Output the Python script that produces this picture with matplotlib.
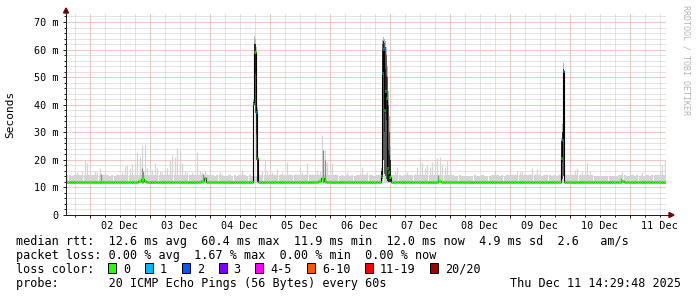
import matplotlib
matplotlib.use("Agg")
import matplotlib.dates as mdates
import matplotlib.pyplot as plt
import numpy as np
import pandas as pd
from matplotlib.patches import Polygon, Rectangle
from matplotlib.ticker import FuncFormatter, MultipleLocator

W, H = 697, 297
MONO = "DejaVu Sans Mono"
start = pd.Timestamp("2025-12-01 14:29:48")

# hourly upper edge of the light smoke (ms), 240 hours from start
smoke_max = [
    14.5, 14.5, 14.0, 15.0, 15.7, 14.5, 16.0, 20.0, 18.7, 17.0,
    14.5, 16.0, 15.5, 17.0, 14.5, 15.7, 14.5, 14.0, 14.5, 14.0,
    15.0, 14.5, 15.5, 17.6, 18.0, 17.0, 18.5, 19.0, 23.0, 21.0,
    25.4, 25.4, 17.0, 17.5, 16.5, 18.8, 17.0, 16.0, 15.5, 16.5,
    17.0, 20.0, 21.8, 21.0, 24.2, 24.0, 18.7, 16.0, 15.5, 14.5,
    15.5, 15.0, 23.0, 16.0, 15.5, 16.5, 15.0, 18.7, 14.5, 14.0,
    14.5, 15.7, 14.5, 14.3, 14.3, 15.0, 14.3, 14.5, 14.3, 14.5,
    16.5, 14.5, 14.3, 15.0, 14.3, 14.3, 14.3, 14.5, 16.0, 20.0,
    16.0, 16.0, 15.5, 15.0, 16.7, 15.0, 15.7, 15.0, 19.3, 14.8,
    14.5, 14.8, 15.0, 17.4, 15.5, 15.0, 18.8, 15.0, 14.8, 14.5,
    16.5, 16.0, 29.0, 23.6, 19.3, 18.0, 19.0, 15.0, 14.5, 14.3,
    14.5, 14.3, 15.5, 14.3, 14.5, 14.3, 14.5, 14.8, 17.4, 15.0,
    15.5, 14.5, 14.5, 14.3, 14.5, 15.0, 15.0, 15.0, 15.0, 15.0,
    14.5, 16.0, 17.4, 14.5, 14.3, 14.5, 15.7, 14.5, 14.5, 15.0,
    17.4, 20.6, 18.9, 17.0, 18.0, 17.5, 19.3, 20.0, 20.5, 21.2,
    18.5, 17.5, 20.0, 16.0, 14.5, 14.3, 14.3, 14.5, 14.3, 14.0,
    14.3, 14.0, 14.3, 15.0, 14.3, 14.0, 14.5, 14.3, 14.0, 14.3,
    14.5, 16.3, 14.5, 14.3, 14.5, 14.3, 15.0, 14.5, 14.8, 14.5,
    16.0, 15.5, 16.0, 15.0, 14.5, 15.0, 17.0, 15.0, 16.8, 14.5,
    14.3, 14.5, 15.0, 14.5, 14.3, 14.5, 14.3, 15.0, 15.0, 15.0,
    14.8, 14.5, 15.0, 16.5, 17.0, 15.0, 16.0, 16.0, 18.8, 16.0,
    14.5, 14.0, 14.0, 14.3, 14.0, 14.0, 14.3, 14.0, 14.0, 14.3,
    14.0, 14.5, 15.5, 14.5, 14.3, 14.0, 14.5, 14.3, 14.5, 14.0,
    15.5, 14.3, 14.5, 14.3, 14.8, 14.5, 15.0, 16.5, 18.3, 20.0,
]

# hourly median rtt (ms); nan where the spike columns below take over
nan = float("nan")
median_rtt = [
    12.0, 12.1, 12.0, 12.0, 11.9, 12.0, 12.0, 12.1, 12.0, 12.0,
    12.0, 12.0, 12.1, 12.0, 12.0, 12.0, 11.9, 12.0, 12.0, 12.0,
    12.0, 12.0, 12.0, 12.0, 12.1, 12.0, 12.0, 12.0, 12.1, 12.2,
    13.2, 12.3, 12.0, 12.0, 12.0, 12.1, 12.0, 12.0, 12.0, 12.0,
    12.1, 12.0, 12.0, 12.1, 12.0, 12.0, 12.0, 11.9, 12.0, 12.0,
    12.0, 12.0, 12.1, 12.0, 12.2, 13.3, 12.1, 12.0, 12.0, 12.0,
    12.0, 12.0, 12.0, 11.9, 12.0, 12.0, 12.0, 12.0, 12.0, 12.0,
    12.0, 12.0, 12.0, 12.0, 12.0, nan, nan, 12.1, 12.0, 12.0,
    12.0, 12.0, 12.0, 12.1, 12.0, 12.0, 12.0, 12.0, 12.0, 12.0,
    12.0, 11.9, 12.0, 12.0, 12.0, 12.0, 12.1, 12.0, 12.0, 12.0,
    12.0, 12.2, 13.6, 12.4, 12.0, 12.1, 12.0, 12.0, 12.0, 12.0,
    12.0, 12.0, 12.0, 12.0, 11.9, 12.0, 12.0, 12.0, 12.0, 12.0,
    12.0, 12.0, 12.0, 12.0, 12.0, 12.0, nan, nan, nan, nan,
    12.1, 12.0, 12.0, 12.0, 12.0, 12.0, 12.0, 12.0, 12.1, 12.0,
    12.0, 12.0, 12.0, 12.0, 12.0, 12.0, 12.0, 12.0, 12.0, 12.2,
    12.0, 12.0, 12.0, 12.0, 12.0, 12.0, 12.0, 11.9, 12.0, 12.0,
    12.0, 12.0, 12.0, 12.0, 12.0, 12.0, 12.0, 12.0, 12.0, 12.0,
    12.0, 12.1, 12.0, 12.0, 12.0, 12.0, 12.0, 12.0, 12.0, 12.0,
    12.0, 12.0, 12.0, 12.0, 12.0, 12.0, 12.1, 12.0, 12.0, 12.0,
    12.0, 12.0, 12.0, 12.0, 12.0, 12.0, 12.0, 12.0, nan, 12.0,
    12.0, 12.0, 12.0, 12.0, 12.0, 12.0, 12.0, 12.0, 12.1, 12.0,
    12.0, 12.0, 12.0, 11.9, 12.0, 12.0, 12.0, 12.0, 12.0, 12.0,
    12.0, 12.0, 12.5, 12.0, 12.0, 12.0, 12.0, 12.0, 12.0, 12.0,
    12.0, 12.0, 12.0, 12.0, 12.0, 12.0, 12.0, 12.0, 12.0, 12.0,
]

# denser (darker) smoke spots: hour offset and top (ms)
dark_hours = [13.9, 30.3, 30.7, 54.7, 102.6, 103.5, 149.0, 222.0]
dark_top = [15.0, 17.0, 16.0, 15.0, 23.6, 20.0, 14.5, 13.5]

# short spikes, one entry per ~24 min column
spike_hours = [74.72, 75.12, 75.52, 75.92, 76.32,
               125.92, 126.32, 126.72, 127.12, 127.52, 127.92, 128.32, 128.72, 129.12, 129.52,
               197.92, 198.32, 198.72]
spike_lo = [12.0, 40.0, 37.0, 20.0, 12.0,
            12.0, 13.0, 20.0, 15.0, 14.0, 13.0, 12.5, 12.0, 12.0, 12.0,
            12.0, 13.0, 14.0]
spike_hi = [41.0, 62.0, 62.0, 59.0, 38.0,
            16.0, 62.0, 63.0, 62.5, 61.0, 58.0, 50.0, 40.0, 30.0, 20.0,
            27.0, 30.0, 53.0]
spike_top = [42.0, 65.0, 64.0, 61.0, 39.0,
             17.0, 63.5, 64.5, 64.0, 63.0, 61.0, 54.0, 45.0, 36.0, 25.0,
             28.0, 33.0, 55.0]
spike_median = [40.3, 59.3, 59.3, 37.5, 20.5,
                14.0, 51.4, 60.2, 38.0, 45.0, 42.3, 17.0, 15.7, 13.9, 13.9,
                20.6, 27.2, 52.3]
spike_loss = [0, 0, 0, 1, 0,
              0, 1, 1, 0, 0, 0, 0, 0, 0, 0,
              0, 1, 1]

loss_labels = ["0", "1", "2", "3", "4-5", "6-10", "11-19", "20/20"]
loss_colors = ["#26ff00", "#00b8ff", "#0059ff", "#7e00ff", "#ff00ff", "#ff5500", "#ff0000", "#a10000"]

rtt_line = "median rtt:  12.6 ms avg  60.4 ms max  11.9 ms min  12.0 ms now  4.9 ms sd  2.6   am/s"
loss_line = "packet loss: 0.00 % avg  1.67 % max  0.00 % min  0.00 % now"
probe_line = "probe:       20 ICMP Echo Pings (56 Bytes) every 60s"
stamp_text = "Thu Dec 11 14:29:48 2025"


def fx(x):
    return x / W


def fy(y):
    return 1 - y / H


t0 = mdates.date2num(start.to_pydatetime())
hours = np.arange(len(smoke_max))
x_hour = t0 + hours / 24

fig = plt.figure(figsize=(W / 100, H / 100), dpi=100)
fig.patch.set_facecolor("white")
ax = fig.add_axes([fx(66), fy(215), 600 / W, 202 / H])
ax.set_xlim(t0, t0 + 10)
ax.set_ylim(0, 202 / 2.757)

# grid
ax.set_axisbelow(True)
ax.xaxis.set_major_locator(mdates.DayLocator())
ax.xaxis.set_minor_locator(mdates.HourLocator(byhour=[0, 6, 12, 18]))
ax.xaxis.set_major_formatter(FuncFormatter(lambda v, p: ""))
ax.xaxis.set_minor_formatter(FuncFormatter(
    lambda v, p: mdates.num2date(v).strftime("%d %b") if mdates.num2date(v).hour == 12 else ""))
ax.yaxis.set_major_locator(MultipleLocator(10))
ax.yaxis.set_minor_locator(MultipleLocator(2))
ax.yaxis.set_major_formatter(FuncFormatter(lambda v, p: "0" if v == 0 else f"{v:.0f} m"))
ax.grid(which="minor", color="#c8c8c8", ls=(0, (1, 1)), lw=0.72)
ax.grid(which="major", color="#e79191", ls=(0, (1, 1)), lw=0.72)

ax.tick_params(which="both", direction="out", color="#1f1f1f", width=0.72, labelsize=7.3)
ax.tick_params(which="major", length=2.2)
ax.tick_params(which="minor", length=1.5)
ax.tick_params(axis="x", which="minor", pad=2.5)
ax.tick_params(axis="y", pad=3.5)
for lab in ax.get_xticklabels(which="both") + ax.get_yticklabels():
    lab.set_family(MONO)

for side in ("top", "right"):
    ax.spines[side].set_visible(False)
for side in ("left", "bottom"):
    ax.spines[side].set_color("#1f1f1f")
    ax.spines[side].set_linewidth(0.72)

# light smoke
smoke = np.array(smoke_max)
floor = 11.6
body = np.minimum(smoke, 14.4)
light = "#d4d4d4"
ax.bar(x_hour, body - floor, bottom=floor, width=1 / 24, align="edge", color=light, lw=0, zorder=2)
ax.vlines(x_hour + 0.5 / 24, floor, smoke, color=light, lw=0.9, zorder=2)
ax.vlines(t0 + np.array(dark_hours) / 24, floor, dark_top, color="#8c8c8c", lw=0.9, zorder=2)

# spikes: light halo, mid-grey smoke, dark core near the median
xs = t0 + np.array(spike_hours) / 24
lo = np.array(spike_lo)
hi = np.array(spike_hi)
top = np.array(spike_top)
med = np.array(spike_median)
ax.bar(xs, top - lo, bottom=lo, width=0.4 / 24, align="edge", color="#b4b4b4", lw=0, zorder=2)
ax.bar(xs, hi - lo, bottom=lo, width=0.4 / 24, align="edge", color="#5a5a5a", lw=0, zorder=2)
core_lo = np.maximum(lo, med - 8)
core_hi = np.minimum(hi, med + 8)
ax.bar(xs, core_hi - core_lo, bottom=core_lo, width=0.4 / 24, align="edge", color="#262626",
       lw=0, zorder=2)

# median line
df = pd.concat([
    pd.DataFrame({"t": hours.astype(float), "med": median_rtt, "loss": 0}),
    pd.DataFrame({"t": spike_hours, "med": spike_median, "loss": spike_loss}),
]).dropna().sort_values("t").reset_index(drop=True)
df["t_end"] = df["t"].shift(-1).fillna(240.0)
tx = t0 + df["t"].to_numpy() / 24
te = t0 + df["t_end"].to_numpy() / 24
ax.step(np.append(tx, te[-1]), np.append(df["med"].to_numpy(), df["med"].iloc[-1]),
        where="post", color="black", lw=0.8, zorder=3)
ax.hlines(df["med"], tx, te, colors=[loss_colors[i] for i in df["loss"]], lw=2.2, zorder=4)

# axis extension and arrows
fig.add_artist(plt.Line2D([fx(666), fx(670)], [fy(215), fy(215)], color="#1f1f1f", lw=0.72))
fig.add_artist(plt.Line2D([fx(66), fx(66)], [fy(213), fy(11)], color="#1f1f1f", lw=0.72))
fig.add_artist(Polygon([[fx(63.5), fy(13)], [fx(68.5), fy(13)], [fx(66), fy(8)]], closed=True,
                       color="#7f0000", transform=fig.transFigure))
fig.add_artist(Polygon([[fx(669), fy(212.5)], [fx(669), fy(217.5)], [fx(674), fy(215)]], closed=True,
                       color="#7f0000", transform=fig.transFigure))

fig.text(fx(10), fy(114), "Seconds", rotation=90, ha="center", va="center", family=MONO, fontsize=8)
fig.text(fx(686), fy(5), "RRDTOOL / TOBI OETIKER", rotation=270, ha="center", va="top",
         family=MONO, fontsize=6, color="#b4b4b4")

# legend
LEG = 8.5
fig.text(fx(16.4), fy(244.8), rtt_line, ha="left", va="baseline", family=MONO, fontsize=LEG)
fig.text(fx(16.4), fy(258.8), loss_line, ha="left", va="baseline", family=MONO, fontsize=LEG)
fig.text(fx(16.4), fy(272.8), "loss color:", ha="left", va="baseline", family=MONO, fontsize=LEG)
box_x = [108, 145, 182, 218.5, 255, 307, 365, 430]
for x, lab, c in zip(box_x, loss_labels, loss_colors):
    fig.add_artist(Rectangle((fx(x), fy(272.5)), 8.3 / W, 9.2 / H, transform=fig.transFigure,
                             facecolor=c, edgecolor="black", lw=0.72))
    fig.text(fx(x + 15), fy(272.8), lab, ha="left", va="baseline", family=MONO, fontsize=LEG)
fig.text(fx(16.4), fy(286.8), probe_line, ha="left", va="baseline", family=MONO, fontsize=LEG)
fig.text(fx(680.5), fy(286.8), stamp_text, ha="right", va="baseline", family=MONO, fontsize=LEG)

fig.savefig("out.png", dpi=100, facecolor="white")
